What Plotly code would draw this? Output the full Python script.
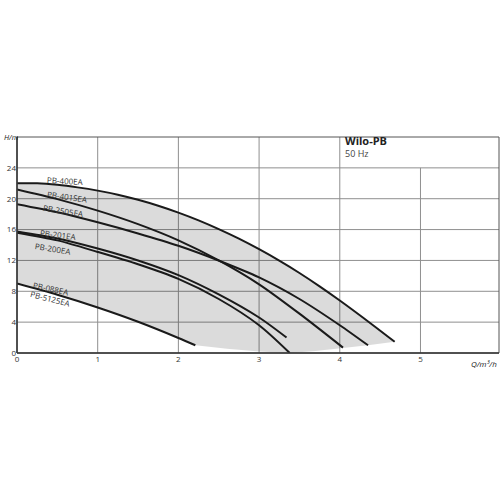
import plotly.graph_objects as go

# ---- data (Q in m3/h, H in m) ----
q_400 = [0, 0.25, 0.5, 0.75, 1.0, 1.25, 1.5, 1.75, 2.0, 2.25, 2.5, 2.75, 3.0, 3.25, 3.5, 3.75, 4.0, 4.4, 4.68]
h_400 = [22.0, 22.0, 21.8, 21.47, 21.05, 20.52, 19.86, 19.09, 18.2, 17.19, 16.06, 14.82, 13.45, 11.97, 10.37, 8.64, 6.8, 3.7, 1.45]

q_401 = [0, 0.5, 1.0, 1.5, 2.0, 2.5, 3.0, 3.5, 4.04]
h_401 = [21.2, 19.95, 18.45, 16.7, 14.6, 12.0, 8.9, 5.1, 0.7]

q_2505 = [0, 0.5, 1.0, 1.5, 2.0, 2.52, 3.0, 3.5, 4.0, 4.35]
h_2505 = [19.3, 18.25, 16.95, 15.5, 13.9, 11.9, 9.8, 7.0, 3.6, 1.0]

q_201 = [0, 0.5, 1.0, 1.5, 2.0, 2.5, 3.0, 3.34]
h_201 = [15.75, 14.85, 13.55, 12.0, 10.1, 7.6, 4.6, 2.0]

q_200 = [0, 0.5, 1.0, 1.5, 2.0, 2.5, 3.0, 3.38]
h_200 = [15.6, 14.6, 13.1, 11.5, 9.6, 7.0, 3.6, 0.0]

q_088 = [0, 0.5, 1.0, 1.5, 2.0, 2.21]
h_088 = [9.0, 7.55, 5.9, 4.05, 1.95, 1.0]

# lower edge of the shaded operating range (right part)
q_env_bottom = [4.68, 4.35, 4.04, 3.7, 3.38, 3.0, 2.6, 2.21]
h_env_bottom = [1.45, 1.0, 0.65, 0.25, 0.0, 0.2, 0.55, 1.0]

x_ticks = [0, 1, 2, 3, 4, 5]
y_ticks = [0, 4, 8, 12, 16, 20, 24]

curve_labels = ["PB-400EA", "PB-401SEA", "PB-2505EA", "PB-201EA", "PB-200EA", "PB-088EA", "PB-5125EA"]
label_q = [0.60, 0.62, 0.57, 0.51, 0.45, 0.43, 0.42]
label_h = [22.4, 20.3, 18.5, 15.3, 13.6, 8.4, 7.05]
label_angle = [3, 8, 9, 7, 9, 12, 14]

X_MAX = 5.973
Y_MAX = 28

fig = go.Figure()

# shaded envelope
env_q = q_400 + q_env_bottom + q_088[::-1]
env_h = h_400 + h_env_bottom + h_088[::-1]
fig.add_trace(go.Scatter(x=env_q, y=env_h, mode="lines", fill="toself",
                         fillcolor="rgba(0,0,0,0.14)", line=dict(width=0),
                         hoverinfo="skip", showlegend=False))

for qs, hs in [(q_400, h_400), (q_401, h_401), (q_2505, h_2505),
               (q_201, h_201), (q_200, h_200), (q_088, h_088)]:
    fig.add_trace(go.Scatter(x=qs, y=hs, mode="lines",
                             line=dict(color="#1a1a1a", width=2, shape="spline", smoothing=0.8),
                             showlegend=False))

shapes = []
grid = dict(color="#8f8f8f", width=1)
for q in x_ticks[1:]:
    top = 24 if q == 5 else Y_MAX
    shapes.append(dict(type="line", xref="x", yref="y", x0=q, x1=q, y0=0, y1=top,
                       line=grid, layer="below"))
for h in y_ticks[1:]:
    shapes.append(dict(type="line", xref="paper", yref="y", x0=0, x1=1, y0=h, y1=h,
                       line=grid, layer="below"))
# frame
shapes.append(dict(type="rect", xref="paper", yref="paper", x0=0, x1=1, y0=0, y1=1,
                   line=dict(color="#555555", width=1), layer="above"))
shapes.append(dict(type="line", xref="paper", yref="paper", x0=0, x1=0, y0=0, y1=1,
                   line=dict(color="#333333", width=1.5), layer="above"))
shapes.append(dict(type="line", xref="paper", yref="paper", x0=0, x1=1, y0=0, y1=0,
                   line=dict(color="#333333", width=1.5), layer="above"))

annotations = []
for txt, q, h, a in zip(curve_labels, label_q, label_h, label_angle):
    annotations.append(dict(x=q, y=h, xref="x", yref="y", text=txt, showarrow=False,
                            textangle=a, font=dict(family="Open Sans", size=8, color="#333333")))

annotations.append(dict(x=4.04, y=27.6, xref="x", yref="y", text="<b>Wilo-PB</b>",
                        showarrow=False, xanchor="left", yanchor="middle",
                        font=dict(family="Open Sans", size=11, color="#222222")))
annotations.append(dict(x=4.04, y=25.8, xref="x", yref="y", text="50 Hz",
                        showarrow=False, xanchor="left", yanchor="middle",
                        font=dict(family="Open Sans", size=9, color="#444444")))
annotations.append(dict(x=-15 / 482, y=Y_MAX, xref="paper", yref="y", text="<i>H/m</i>",
                        showarrow=False, xanchor="left", yanchor="middle",
                        font=dict(family="Open Sans", size=7.5, color="#222222")))
annotations.append(dict(x=0.999, y=-0.012, xref="paper", yref="paper", text="<i>Q/m³/h</i>",
                        showarrow=False, xanchor="right", yanchor="top",
                        font=dict(family="Open Sans", size=8, color="#222222")))

fig.update_layout(
    width=500, height=500,
    margin=dict(l=17, r=1, t=137, b=147, autoexpand=False),
    paper_bgcolor="white", plot_bgcolor="white",
    shapes=shapes, annotations=annotations,
    xaxis=dict(range=[0, X_MAX], tickvals=x_ticks, ticktext=[str(v) for v in x_ticks],
               showgrid=False, zeroline=False, showline=False, ticks="", automargin=False,
               tickfont=dict(family="Open Sans", size=8, color="#333333")),
    yaxis=dict(range=[0, Y_MAX], tickvals=y_ticks, ticktext=[str(v) for v in y_ticks],
               showgrid=False, zeroline=False, showline=False, ticks="", automargin=False,
               tickfont=dict(family="Open Sans", size=8, color="#333333")),
)

fig.write_html("out.html", config={"displayModeBar": False},
               post_script="document.body.style.margin='0';document.body.style.overflow='hidden';")
